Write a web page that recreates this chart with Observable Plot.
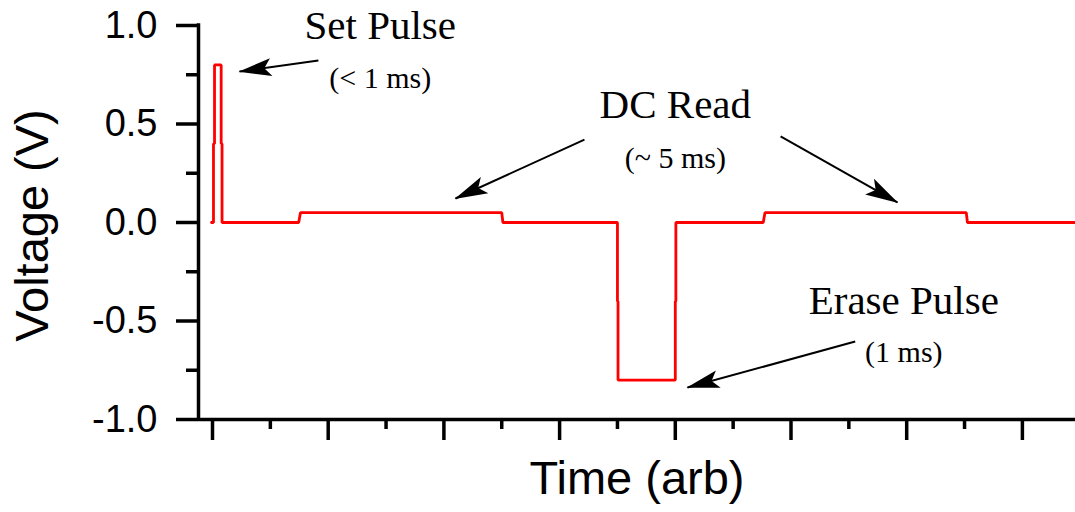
<!DOCTYPE html>
<html>
<head>
<meta charset="utf-8">
<script src="https://cdn.jsdelivr.net/npm/d3@7"></script>
<script src="https://cdn.jsdelivr.net/npm/@observablehq/plot@0.6"></script>
<style>
  html, body { margin: 0; padding: 0; background: #fff; }
  #chart { width: 1075px; height: 512px; }
</style>
</head>
<body>
<div id="chart"></div>
<script>
// ---- Signal (time in ms-like arbitrary units, voltage in V) ----
const time    = [-0.017, 0.017, 0.017, 0.035, 0.035, 0.150, 0.150, 0.165, 0.165, 1.49, 1.52, 5.00, 5.02, 7.00, 7.00, 7.01, 7.01, 8.00, 8.00, 8.01, 8.01, 9.52, 9.55, 13.03, 13.05, 14.92];
const voltage = [0, 0, 0.4, 0.4, 0.8, 0.8, 0.4, 0.4, 0, 0, 0.05, 0.05, 0, 0, -0.4, -0.4, -0.8, -0.8, -0.4, -0.4, 0, 0, 0.05, 0.05, 0, 0];

// ---- Axes ----
const xDomain = [-0.242, 14.918];
const yDomain = [-1, 1];
const xMajorTicks = [0, 2, 4, 6, 8, 10, 12, 14];
const xMinorTicks = [1, 3, 5, 7, 9, 11, 13];
const yMajorTicks = [-1, -0.5, 0, 0.5, 1];
const yMinorTicks = [-0.75, -0.25, 0.25, 0.75];
const xTitle = "Time (arb)";
const yTitle = "Voltage (V)";

// ---- Annotations (data coordinates) ----
const annTitle = ["Set Pulse", "DC Read", "Erase Pulse"];
const annNote = ["(< 1 ms)", "(~ 5 ms)", "(1 ms)"];
const annTime = [2.90, 8.00, 11.95];
const annTitleVolt = [0.934, 0.528, -0.462];
const annNoteVolt = [0.685, 0.279, -0.706];

// ---- Arrows (data coordinates) ----
const arrowT1 = [1.83, 6.43, 9.82, 11.11];
const arrowV1 = [0.822, 0.421, 0.437, -0.604];
const arrowT2 = [0.467, 4.20, 11.84, 8.21];
const arrowV2 = [0.766, 0.122, 0.102, -0.838];

const signal = time.map((t, i) => ({t, v: voltage[i]}));
const anns = annTitle.map((s, i) => ({title: s, note: annNote[i], t: annTime[i], vt: annTitleVolt[i], vn: annNoteVolt[i]}));
const arrows = arrowT1.map((t, i) => ({t1: t, v1: arrowV1[i], t2: arrowT2[i], v2: arrowV2[i]}));

const sans = "Liberation Sans, Arial, Helvetica, sans-serif";
const serif = "Liberation Serif, Times New Roman, serif";
const axisW = 3.5;

const plot = Plot.plot({
  width: 1075,
  height: 512,
  marginTop: 25,
  marginBottom: 93,
  marginLeft: 198,
  marginRight: 0,
  x: {domain: xDomain, label: null},
  y: {domain: yDomain, label: null},
  style: {fontFamily: sans, background: "white", color: "black", overflow: "visible"},
  marks: [
    // axis lines
    Plot.ruleX([xDomain[0]], {y1: yDomain[0], y2: yDomain[1], stroke: "black", strokeWidth: axisW, strokeLinecap: "square"}),
    Plot.ruleY([yDomain[0]], {x1: xDomain[0], x2: xDomain[1], stroke: "black", strokeWidth: axisW}),
    // y ticks
    Plot.axisY(yMajorTicks, {anchor: "left", tickSize: 22, tickPadding: 19, strokeWidth: axisW, fontSize: 38, tickFormat: d => d.toFixed(1), label: null}),
    Plot.axisY(yMinorTicks, {anchor: "left", tickSize: 12, strokeWidth: axisW, tickFormat: () => "", label: null}),
    // x ticks
    Plot.axisX(xMajorTicks, {anchor: "bottom", tickSize: 21, strokeWidth: axisW, tickFormat: () => "", label: null}),
    Plot.axisX(xMinorTicks, {anchor: "bottom", tickSize: 10, strokeWidth: axisW, tickFormat: () => "", label: null}),
    // axis titles
    Plot.text([xTitle], {frameAnchor: "bottom", textAnchor: "middle", dy: 74, lineAnchor: "bottom", fontSize: 47, fontFamily: sans, fill: "black"}),
    Plot.text([yTitle], {frameAnchor: "left", textAnchor: "middle", dx: -151, dy: 3, rotate: -90, lineAnchor: "bottom", fontSize: 47, fontFamily: sans, fill: "black"}),
    // signal
    Plot.line(signal, {x: "t", y: "v", stroke: "#ff0000", strokeWidth: 2.8, strokeLinejoin: "miter"}),
    // arrows
    Plot.link(arrows, {x1: "t1", y1: "v1", x2: "t2", y2: "v2", stroke: "black", strokeWidth: 2, markerEnd: "arrow"}),
    // annotation texts
    Plot.text(anns, {x: "t", y: "vt", text: "title", lineAnchor: "bottom", textAnchor: "middle", fontSize: 41, fontFamily: serif, fill: "black"}),
    Plot.text(anns, {x: "t", y: "vn", text: "note", lineAnchor: "bottom", textAnchor: "middle", fontSize: 30, fontFamily: serif, fill: "black"})
  ]
});

// Replace the open arrow markers with filled arrowheads like the reference
const NS = "http://www.w3.org/2000/svg";
plot.querySelectorAll("marker").forEach(m => {
  m.setAttribute("viewBox", "-34 -11 36 22");
  m.setAttribute("markerWidth", "36");
  m.setAttribute("markerHeight", "22");
  m.setAttribute("markerUnits", "userSpaceOnUse");
  m.setAttribute("refX", "0");
  m.setAttribute("refY", "0");
  m.setAttribute("orient", "auto");
  while (m.firstChild) m.removeChild(m.firstChild);
  const p = document.createElementNS(NS, "path");
  p.setAttribute("d", "M1,0L-32,-9L-25,0L-32,9Z");
  p.setAttribute("fill", "black");
  p.setAttribute("stroke", "none");
  m.appendChild(p);
});

document.getElementById("chart").appendChild(plot);
</script>
</body>
</html>
